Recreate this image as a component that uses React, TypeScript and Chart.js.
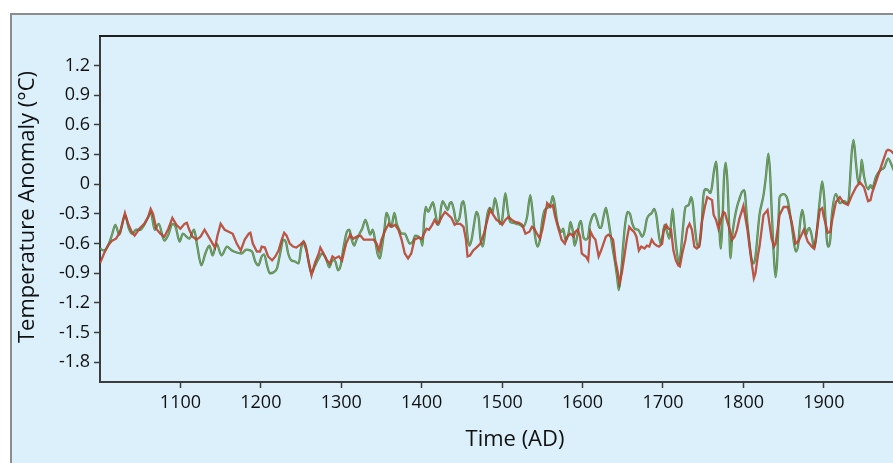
import React, { useEffect, useRef } from "react";
import { Chart, registerables } from "chart.js";

Chart.register(...registerables);

const redYears = [1000,1005,1010,1015,1020,1025,1031,1035,1040,1043,1050,1055,1060,1063,1066,1070,1075,1080,1085,1090,1095,1100,1105,1108,1111,1115,1120,1125,1130,1135,1140,1143,1146,1150,1155,1160,1165,1170,1175,1180,1185,1187,1190,1195,1199,
1201,1205,1209,1214,1218,1222,1226,1229,1232,1236,1240,1244,1249,1253,1257,1261,1263,1267,1272,1274,1278,1282,1286,1289,1292,1297,1301,1306,1311,1315,1319,1324,1328,1332,1336,1340,1344,1347,1350,1355,1359,1363,1367,1371,1375,1379,1383,1387,1391,
1396,1400,1403,1406,1409,1413,1416,1419,1422,1425,1429,1433,1437,1441,1443,1448,1452,1455,1457,1460,1464,1468,1473,1477,1481,1485,1489,1493,1497,1500,1504,1508,1512,1516,1521,1525,1529,1534,1537,1540,1544,1547,1550,1553,1556,1560,1563,1566,1570,1574,1578,1581,1585,1589,
1591,1594,1597,1599,1602,1604,1607,1609,1610,1613,1616,1620,1623,1626,1629,1632,1635,1638,1641,1644,1646,1649,1652,1655,1658,1661,1664,1667,1670,1673,1677,1680,1683,1686,1689,1692,1695,1699,1701,1704,1707,1710,1713,1716,1719,1721,1724,1728,1730,1733,1736,1739,1742,1745,1748,1752,1755,1757,1761,1763,1766,1769,1772,1775,1777,1780,1783,1786,1789,
1792,1795,1800,1805,1810,1813,1815,1818,1820,1825,1830,1835,1838,1840,1845,1850,1855,1860,1865,1868,1870,1875,1880,1885,1888,1890,1895,1898,1900,1905,1908,1910,1915,1920,1925,1930,1935,1940,1945,1950,1955,1958,1960,1965,1970,1975,1978,1980,1983,1987];

const redValues = [-0.80,-0.70,-0.62,-0.57,-0.55,-0.48,-0.29,-0.40,-0.49,-0.52,-0.44,-0.40,-0.33,-0.25,-0.30,-0.45,-0.50,-0.53,-0.45,-0.34,-0.41,-0.45,-0.40,-0.39,-0.46,-0.53,-0.56,-0.53,-0.46,-0.53,-0.60,-0.64,-0.52,-0.40,-0.46,-0.48,-0.50,-0.60,-0.67,-0.56,-0.50,-0.49,-0.60,-0.68,-0.68,
-0.63,-0.64,-0.73,-0.77,-0.73,-0.67,-0.56,-0.49,-0.52,-0.60,-0.63,-0.64,-0.61,-0.58,-0.68,-0.84,-0.92,-0.80,-0.70,-0.64,-0.70,-0.77,-0.80,-0.73,-0.75,-0.73,-0.77,-0.60,-0.51,-0.55,-0.53,-0.52,-0.56,-0.56,-0.56,-0.56,-0.60,-0.67,-0.56,-0.46,-0.40,-0.43,-0.41,-0.46,-0.56,-0.70,-0.75,-0.70,-0.56,
-0.54,-0.55,-0.50,-0.45,-0.46,-0.41,-0.36,-0.40,-0.38,-0.33,-0.28,-0.31,-0.34,-0.41,-0.40,-0.40,-0.43,-0.56,-0.73,-0.72,-0.67,-0.64,-0.60,-0.51,-0.38,-0.26,-0.31,-0.36,-0.38,-0.41,-0.36,-0.33,-0.36,-0.38,-0.39,-0.41,-0.50,-0.48,-0.43,-0.45,-0.51,-0.55,-0.46,-0.33,-0.19,-0.23,-0.21,-0.33,-0.45,-0.56,-0.60,-0.53,-0.50,-0.53,
-0.48,-0.46,-0.53,-0.70,-0.72,-0.73,-0.77,-0.56,-0.48,-0.53,-0.56,-0.73,-0.67,-0.60,-0.53,-0.51,-0.53,-0.56,-0.77,-0.90,-1.00,-0.89,-0.73,-0.56,-0.43,-0.46,-0.48,-0.53,-0.67,-0.63,-0.65,-0.62,-0.63,-0.56,-0.60,-0.62,-0.63,-0.60,-0.46,-0.41,-0.45,-0.46,-0.67,-0.77,-0.82,-0.83,-0.70,-0.56,-0.45,-0.40,-0.46,-0.63,-0.65,-0.63,-0.40,-0.23,-0.13,-0.14,-0.16,-0.31,-0.36,-0.45,-0.36,-0.28,-0.29,-0.38,-0.46,-0.56,-0.53,
-0.46,-0.35,-0.22,-0.46,-0.78,-0.95,-0.90,-0.72,-0.63,-0.31,-0.26,-0.55,-0.63,-0.60,-0.31,-0.23,-0.23,-0.38,-0.60,-0.58,-0.55,-0.46,-0.58,-0.63,-0.65,-0.55,-0.26,-0.24,-0.33,-0.49,-0.48,-0.38,-0.18,-0.13,-0.19,-0.21,-0.11,-0.03,0.02,-0.03,-0.17,-0.16,-0.09,0.03,0.15,0.27,0.34,0.35,0.34,0.31];

const greenYears = [1000,1005,1010,1015,1019,1024,1027,1031,1036,1040,1045,1050,1055,1060,1063,1068,1073,1080,1085,1090,1094,1099,1103,1111,1117,1121,1126,1131,1136,1140,1145,1151,1158,1164,1170,1176,1182,1189,
1193,1197,1201,1204,1208,1211,1216,1220,1224,1228,1231,1234,1238,1242,1247,1250,1253,1256,1259,1263,1267,1272,1276,1281,1285,1289,1292,1296,1299,1303,1307,1310,1313,1316,1319,1324,1326,1330,1333,1336,1339,1342,1345,1348,1350,1354,1356,1359,1361,1363,1366,1369,1372,1375,1379,1382,1385,1389,1392,1396,1399,
1401,1403,1405,1408,1411,1414,1417,1420,1422,1424,1426,1429,1432,1435,1437,1440,1443,1447,1450,1452,1455,1457,1459,1462,1465,1468,1471,1473,1476,1479,1482,1485,1488,1491,1495,1497,1500,1504,1507,1510,1514,1518,1522,1526,1531,1535,1538,1541,1544,1547,1550,1553,1558,1561,1563,1565,1568,1571,1574,1576,1579,1583,1585,1588,1590,
1593,1596,1598,1601,1604,1607,1609,1612,1615,1618,1621,1623,1626,1629,1631,1634,1637,1640,1643,1645,1648,1650,1653,1656,1659,1662,1665,1669,1672,1674,1677,1680,1683,1686,1689,1692,1694,1697,1700,1702,1705,1708,1710,1712,1714,1717,1720,1722,1725,1728,1732,1735,1737,1740,1743,1745,1748,1750,1753,1756,1759,1761,1763,1766,1768,1770,1772,1774,1776,1778,1780,1782,1784,1786,1789,
1792,1795,1798,1801,1805,1810,1813,1815,1820,1825,1828,1831,1833,1835,1838,1840,1842,1845,1850,1855,1860,1865,1868,1870,1873,1875,1878,1880,1882,1885,1888,1890,1895,1898,1900,1905,1908,1910,1915,1920,1925,1930,1935,1937,1940,1943,1946,1947,1950,1955,1958,1960,1965,1970,1975,1980,1985,1987];

const greenValues = [-0.65,-0.67,-0.62,-0.51,-0.41,-0.51,-0.43,-0.31,-0.45,-0.50,-0.46,-0.46,-0.41,-0.33,-0.28,-0.46,-0.40,-0.57,-0.51,-0.40,-0.43,-0.58,-0.50,-0.55,-0.46,-0.63,-0.82,-0.70,-0.62,-0.72,-0.60,-0.72,-0.63,-0.67,-0.69,-0.70,-0.66,-0.68,
-0.78,-0.82,-0.73,-0.71,-0.83,-0.90,-0.89,-0.85,-0.70,-0.56,-0.58,-0.70,-0.77,-0.78,-0.80,-0.65,-0.58,-0.63,-0.77,-0.90,-0.83,-0.75,-0.70,-0.75,-0.84,-0.77,-0.77,-0.87,-0.83,-0.63,-0.48,-0.46,-0.56,-0.62,-0.56,-0.48,-0.45,-0.36,-0.43,-0.51,-0.46,-0.56,-0.70,-0.75,-0.67,-0.43,-0.29,-0.34,-0.43,-0.41,-0.29,-0.40,-0.46,-0.50,-0.50,-0.55,-0.60,-0.58,-0.52,-0.53,-0.56,
-0.62,-0.36,-0.23,-0.28,-0.23,-0.18,-0.29,-0.41,-0.38,-0.24,-0.17,-0.21,-0.26,-0.19,-0.18,-0.26,-0.38,-0.34,-0.19,-0.17,-0.34,-0.53,-0.62,-0.56,-0.41,-0.28,-0.35,-0.55,-0.63,-0.46,-0.29,-0.24,-0.29,-0.14,-0.29,-0.40,-0.36,-0.09,-0.26,-0.38,-0.39,-0.40,-0.41,-0.43,-0.33,-0.11,-0.29,-0.53,-0.63,-0.56,-0.36,-0.26,-0.23,-0.18,-0.12,-0.18,-0.36,-0.45,-0.48,-0.45,-0.57,-0.48,-0.38,-0.48,-0.62,
-0.54,-0.40,-0.37,-0.53,-0.56,-0.53,-0.41,-0.33,-0.30,-0.36,-0.44,-0.44,-0.33,-0.24,-0.31,-0.46,-0.63,-0.77,-0.94,-1.07,-0.90,-0.67,-0.40,-0.28,-0.30,-0.40,-0.45,-0.46,-0.50,-0.53,-0.48,-0.35,-0.31,-0.29,-0.25,-0.33,-0.46,-0.60,-0.50,-0.41,-0.48,-0.55,-0.40,-0.25,-0.43,-0.67,-0.80,-0.70,-0.43,-0.23,-0.21,-0.13,-0.19,-0.46,-0.63,-0.63,-0.43,-0.14,-0.05,-0.06,-0.09,-0.02,0.11,0.23,0.01,-0.43,-0.65,-0.36,0.08,0.22,0.04,-0.36,-0.75,-0.53,-0.35,
-0.23,-0.15,-0.08,-0.06,-0.40,-0.75,-0.80,-0.73,-0.31,-0.11,0.08,0.31,0.14,-0.23,-0.75,-0.94,-0.77,-0.13,-0.10,-0.16,-0.41,-0.68,-0.62,-0.43,-0.26,-0.33,-0.51,-0.46,-0.44,-0.52,-0.65,-0.57,-0.16,0.03,-0.09,-0.63,-0.56,-0.31,-0.10,-0.19,-0.17,-0.19,0.35,0.45,0.21,0.01,0.14,0.25,0.08,-0.05,-0.01,-0.04,0.08,0.14,0.17,0.26,0.18,0.14];

const xTickValues = [1100, 1200, 1300, 1400, 1500, 1600, 1700, 1800, 1900];
const yTickValues = [1.2, 0.9, 0.6, 0.3, 0, -0.3, -0.6, -0.9, -1.2, -1.5, -1.8];
const yTickLabels = ["1.2", "0.9", "0.6", "0.3", "0", "-0.3", "-0.6", "-0.9", "-1.2", "-1.5", "-1.8"];

const xTitle = "Time (AD)";
const yTitle = "Temperature Anomaly (°C)";

const BG = "#dbf0fb";
const FONT = "'Open Sans', 'Noto Sans', sans-serif";

const toPoints = (xs: number[], ys: number[]) => xs.map((x, i) => ({ x, y: ys[i] }));

export default function App() {
  const ref = useRef<HTMLCanvasElement | null>(null);

  useEffect(() => {
    const canvas = ref.current;
    if (!canvas) return;

    const frame = {
      id: "frame",
      beforeDraw(chart: any) {
        const { ctx, width, height } = chart;
        ctx.save();
        ctx.fillStyle = "#ffffff";
        ctx.fillRect(0, 0, width, height);
        ctx.fillStyle = BG;
        ctx.fillRect(11, 14, width - 11, height - 14);
        ctx.strokeStyle = "#8c8c8c";
        ctx.lineWidth = 2;
        ctx.beginPath();
        ctx.moveTo(11, height + 5);
        ctx.lineTo(11, 14);
        ctx.lineTo(width + 5, 14);
        ctx.stroke();
        ctx.restore();
      },
      afterDraw(chart: any) {
        const { ctx, chartArea } = chart;
        ctx.save();
        ctx.strokeStyle = "#1e1e1e";
        ctx.lineWidth = 2;
        ctx.beginPath();
        ctx.moveTo(chartArea.left - 1, chartArea.top);
        ctx.lineTo(chartArea.right + 5, chartArea.top);
        ctx.stroke();
        ctx.fillStyle = "#111";
        ctx.font = `22px ${FONT}`;
        ctx.textAlign = "center";
        ctx.textBaseline = "middle";
        ctx.fillText(xTitle, 515, 440);
        ctx.translate(28, 207);
        ctx.rotate(-Math.PI / 2);
        ctx.fillText(yTitle, 0, 0);
        ctx.restore();
      },
    };

    const chart = new Chart(canvas, {
      type: "line",
      data: {
        datasets: [
          {
            label: "red",
            data: toPoints(redYears, redValues),
            borderColor: "#dc4a32",
            borderWidth: 1.2,
            pointRadius: 0,
            tension: 0,
            order: 1,
          },
          {
            label: "red-edge",
            data: toPoints(redYears, redValues),
            borderColor: "rgba(120,45,30,0.7)",
            borderWidth: 2.3,
            pointRadius: 0,
            tension: 0,
            order: 2,
          },
          {
            label: "green",
            data: toPoints(greenYears, greenValues),
            borderColor: "#6aab55",
            borderWidth: 1.2,
            pointRadius: 0,
            cubicInterpolationMode: "monotone",
            order: 3,
          },
          {
            label: "green-edge",
            data: toPoints(greenYears, greenValues),
            borderColor: "rgba(55,80,50,0.75)",
            borderWidth: 2.3,
            pointRadius: 0,
            cubicInterpolationMode: "monotone",
            order: 4,
          },
        ],
      },
      options: {
        animation: false,
        responsive: false,
        maintainAspectRatio: false,
        layout: { padding: { left: 0, top: 36, right: 0, bottom: 0 } },
        plugins: { legend: { display: false }, tooltip: { enabled: false } },
        scales: {
          x: {
            type: "linear",
            min: 1000,
            max: 1986,
            afterBuildTicks: (scale: any) => {
              scale.ticks = xTickValues.map((v) => ({ value: v }));
            },
            afterFit: (scale: any) => {
              scale.height = 81;
            },
            grid: {
              drawOnChartArea: false,
              drawTicks: true,
              tickLength: 6,
              tickWidth: 1.5,
              tickColor: "#3c3c3c",
            },
            border: { display: true, color: "#3c3c3c", width: 2 },
            ticks: {
              color: "#111",
              padding: 4,
              maxRotation: 0,
              autoSkip: false,
              font: { family: FONT, size: 18 },
              callback: (v: any) => String(v),
            },
          },
          y: {
            type: "linear",
            min: -2.0,
            max: 1.5,
            afterBuildTicks: (scale: any) => {
              scale.ticks = yTickValues.map((v) => ({ value: v }));
            },
            afterFit: (scale: any) => {
              scale.width = 100;
            },
            grid: {
              drawOnChartArea: false,
              drawTicks: true,
              tickLength: 6,
              tickWidth: 1.5,
              tickColor: "#3c3c3c",
            },
            border: { display: true, color: "#3c3c3c", width: 2 },
            ticks: {
              color: "#111",
              padding: 4,
              autoSkip: false,
              font: { family: FONT, size: 18 },
              callback: (v: any) => {
                const i = yTickValues.findIndex((t) => Math.abs(t - Number(v)) < 1e-6);
                return i >= 0 ? yTickLabels[i] : "";
              },
            },
          },
        },
      },
      plugins: [frame],
    } as any);

    return () => chart.destroy();
  }, []);

  return (
    <div style={{ position: "absolute", left: 0, top: 0, width: 893, height: 463, overflow: "hidden" }}>
      <canvas ref={ref} width={893} height={463} style={{ display: "block", width: 893, height: 463 }} />
    </div>
  );
}
